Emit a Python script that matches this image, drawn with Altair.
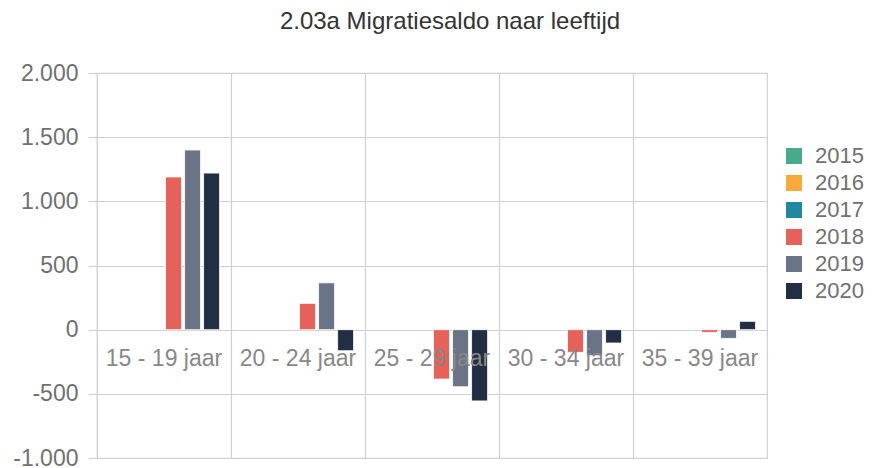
import altair as alt
import pandas as pd

categories = ["15 - 19 jaar", "20 - 24 jaar", "25 - 29 jaar", "30 - 34 jaar", "35 - 39 jaar"]
years = ["2015", "2016", "2017", "2018", "2019", "2020"]
colors = ["#47aa8c", "#f9a83a", "#21889d", "#e5615a", "#6b7486", "#222e43"]
v2018 = [1190, 205, -385, -177, -21]
v2019 = [1400, 365, -445, -203, -68]
v2020 = [1220, -164, -555, -104, 65]

rows = []
for yr, vals in (("2018", v2018), ("2019", v2019), ("2020", v2020)):
    for c, v in zip(categories, vals):
        rows.append({"cat": c, "year": yr, "value": v})
df = pd.DataFrame(rows)
labels_df = pd.DataFrame({"cat": categories, "value": [0] * len(categories)})

FONT = "Liberation Sans"
GRID = "#d0d0d0"
LBL = "#707070"

xscale = alt.Scale(domain=categories, paddingInner=0, paddingOuter=0)

bars = alt.Chart(df).mark_bar(stroke="white", strokeWidth=0.8).encode(
    x=alt.X("cat:N", scale=xscale, sort=categories,
            axis=alt.Axis(labels=False, ticks=False, domain=False, title=None,
                          grid=True, gridColor=GRID, gridWidth=1.2, bandPosition=0)),
    xOffset=alt.XOffset("year:N", scale=alt.Scale(domain=years, paddingInner=0.16, paddingOuter=0.6)),
    y=alt.Y("value:Q", scale=alt.Scale(domain=[-1000, 2000], nice=False),
            axis=alt.Axis(values=[-1000, -500, 0, 500, 1000, 1500, 2000], title=None,
                          domain=False, tickSize=9, tickColor=GRID, tickWidth=1.2,
                          gridColor=GRID, gridWidth=1.2,
                          labelFontSize=23, labelColor=LBL, labelFont=FONT, labelPadding=10,
                          labelExpr="replace(replace(format(datum.value, ','), ',', '.'), '\u2212', '-')")),
    color=alt.Color("year:N", scale=alt.Scale(domain=years, range=colors),
                    legend=alt.Legend(title=None, orient="none", legendX=686, legendY=72,
                                      symbolType="square", symbolSize=256, symbolStrokeWidth=0,
                                      labelFontSize=22, labelColor=LBL, labelFont=FONT,
                                      rowPadding=5, labelOffset=10)),
)

texts = alt.Chart(labels_df).mark_text(
    baseline="middle", align="center", dy=29, fontSize=23, color="#888888", font=FONT
).encode(
    x=alt.X("cat:N", scale=xscale, sort=categories),
    y=alt.Y("value:Q"),
    text="cat:N",
)

chart = alt.layer(bars, texts).properties(
    width=670, height=385,
    padding={"left": 89, "top": 65, "right": 100, "bottom": 12},
    autosize=alt.AutoSizeParams(type="none"),
    title=alt.TitleParams("2.03a Migratiesaldo naar leeftijd", fontSize=24, font=FONT,
                          fontWeight="normal", color="#333333", anchor="middle", dx=18, offset=28),
).configure_view(stroke=GRID, strokeWidth=1.2)

chart.save("out.html", embed_options={"renderer": "svg", "actions": False})
